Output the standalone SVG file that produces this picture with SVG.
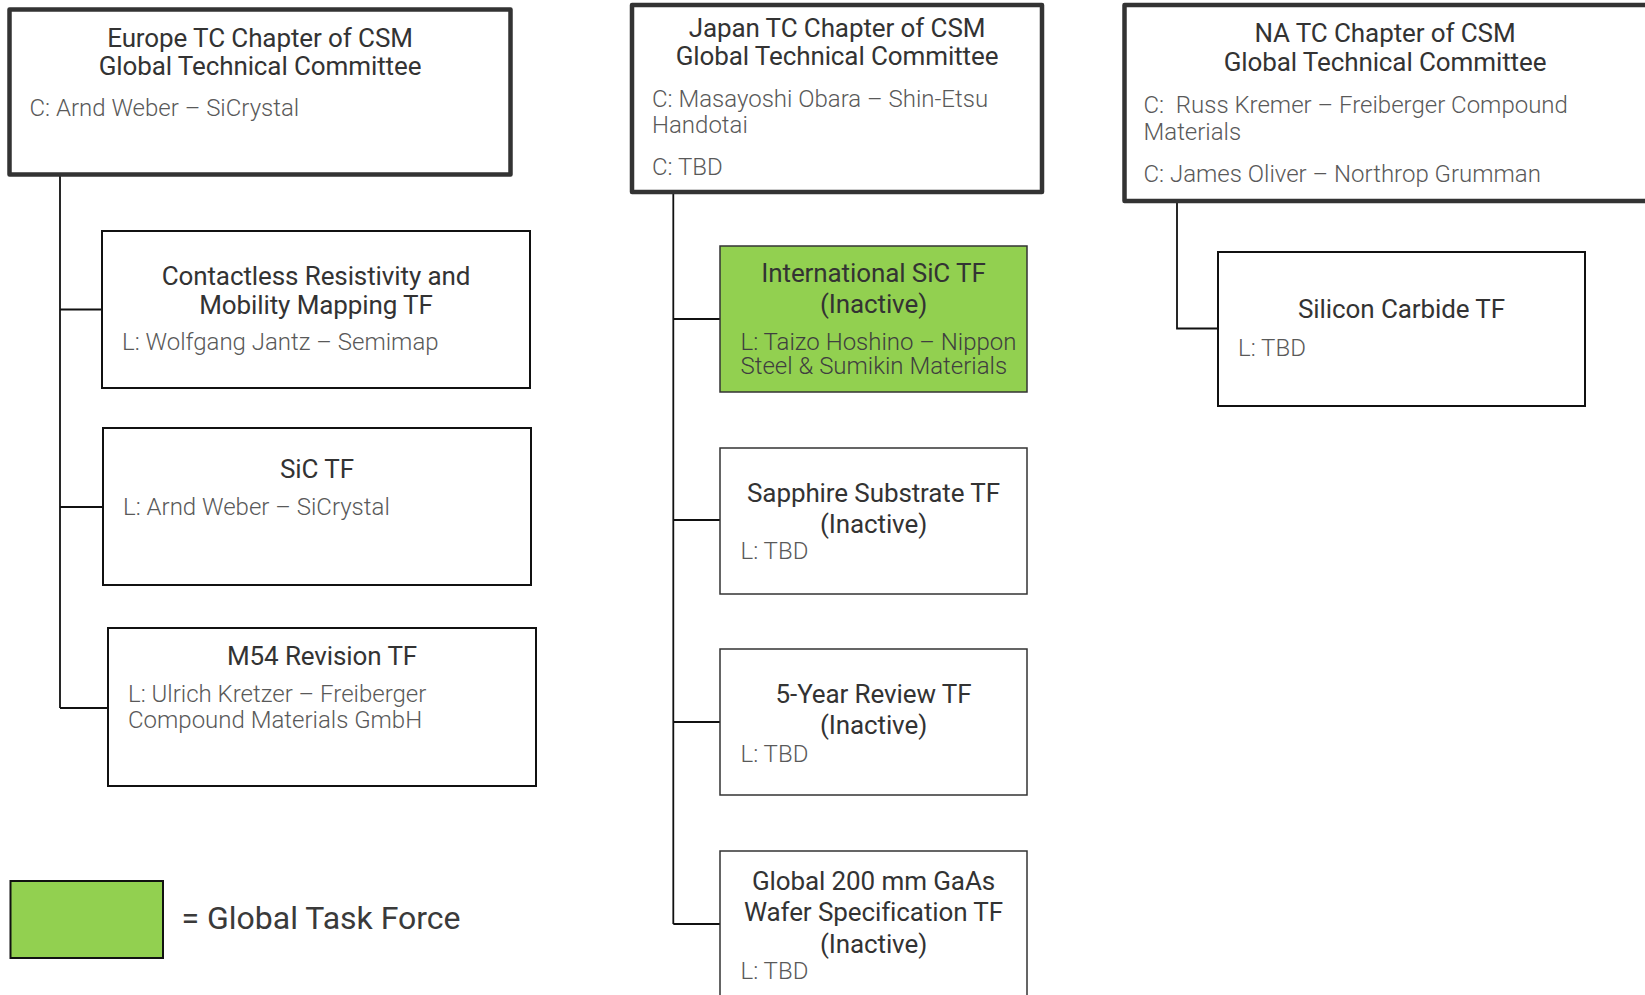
<svg xmlns="http://www.w3.org/2000/svg" width="1645" height="995" viewBox="0 0 1645 995">
  <style>
    .chapter { fill: #ffffff; stroke: #333333; stroke-width: 4.5; stroke-linejoin: round; }
    .tf { fill: #ffffff; stroke: #111111; stroke-width: 2; }
    .tf-j { fill: #ffffff; stroke: #333333; stroke-width: 1.5; }
    .global { fill: #92d050; stroke: #333333; stroke-width: 1.5; }
    .title { font-family: Roboto, "Liberation Sans", sans-serif; font-size: 26px; fill: #333333; text-anchor: middle; letter-spacing: -0.1px; }
    .body { font-family: Roboto, "Liberation Sans", sans-serif; font-weight: 300; font-size: 24px; fill: #595959; }
    .body-g { fill: #3f3f3f; }
    .link { fill: none; stroke: #111111; stroke-width: 1.8; }
    .legend-text { font-family: Roboto, "Liberation Sans", sans-serif; font-size: 32px; fill: #3a3a3a; }
  </style>

  <!-- connectors -->
  <g id="connectors">
    <path class="link" d="M60,175 V708 M60,309.5 H102 M60,507 H103 M60,708 H108"/>
    <path class="link" stroke-width="1.5" d="M673.3,192 V924 M673.3,319 H720 M673.3,520 H720 M673.3,722 H720 M673.3,924 H720"/>
    <path class="link" d="M1177,201 V328.5 H1218"/>
  </g>

  <!-- Europe chapter -->
  <g id="europe-tc">
    <rect class="chapter" x="9.5" y="9.5" width="501" height="165"/>
    <text class="title" x="260" y="46.5">Europe TC Chapter of CSM</text>
    <text class="title" x="260" y="74.5">Global Technical Committee</text>
    <text class="body" x="29.5" y="116">C: Arnd Weber – SiCrystal</text>
  </g>

  <g id="contactless-tf">
    <rect class="tf" x="102" y="231" width="428" height="157"/>
    <text class="title" x="316" y="285">Contactless Resistivity and</text>
    <text class="title" x="316" y="314">Mobility Mapping TF</text>
    <text class="body" x="122" y="350">L: Wolfgang Jantz – Semimap</text>
  </g>

  <g id="sic-tf">
    <rect class="tf" x="103" y="428" width="428" height="157"/>
    <text class="title" x="317" y="478">SiC TF</text>
    <text class="body" x="123" y="515">L: Arnd Weber – SiCrystal</text>
  </g>

  <g id="m54-tf">
    <rect class="tf" x="108" y="628" width="428" height="158"/>
    <text class="title" x="322" y="665">M54 Revision TF</text>
    <text class="body" x="128" y="702">L: Ulrich Kretzer – Freiberger</text>
    <text class="body" x="128" y="728">Compound Materials GmbH</text>
  </g>

  <!-- Japan chapter -->
  <g id="japan-tc">
    <rect class="chapter" x="632" y="5" width="410" height="187"/>
    <text class="title" x="837" y="37">Japan TC Chapter of CSM</text>
    <text class="title" x="837" y="65">Global Technical Committee</text>
    <text class="body" x="652" y="107">C: Masayoshi Obara – Shin-Etsu</text>
    <text class="body" x="652" y="133">Handotai</text>
    <text class="body" x="652" y="175">C: TBD</text>
  </g>

  <g id="intl-sic-tf">
    <rect class="global" x="720" y="246" width="307" height="146"/>
    <text class="title" x="873.5" y="282">International SiC TF</text>
    <text class="title" x="873.5" y="313">(Inactive)</text>
    <text class="body body-g" x="740.5" y="350">L: Taizo Hoshino – Nippon</text>
    <text class="body body-g" x="740.5" y="374">Steel &amp; Sumikin Materials</text>
  </g>

  <g id="sapphire-tf">
    <rect class="tf-j" x="720" y="448" width="307" height="146"/>
    <text class="title" x="873.5" y="501.5">Sapphire Substrate TF</text>
    <text class="title" x="873.5" y="533">(Inactive)</text>
    <text class="body" x="740.5" y="559">L: TBD</text>
  </g>

  <g id="five-year-tf">
    <rect class="tf-j" x="720" y="649" width="307" height="146"/>
    <text class="title" x="873.5" y="703">5-Year Review TF</text>
    <text class="title" x="873.5" y="734">(Inactive)</text>
    <text class="body" x="740.5" y="761.5">L: TBD</text>
  </g>

  <g id="gaas-tf">
    <rect class="tf-j" x="720" y="851" width="307" height="160"/>
    <text class="title" x="873.5" y="889.5">Global 200 mm GaAs</text>
    <text class="title" x="873.5" y="921">Wafer Specification TF</text>
    <text class="title" x="873.5" y="952.5">(Inactive)</text>
    <text class="body" x="740.5" y="979">L: TBD</text>
  </g>

  <!-- North America chapter -->
  <g id="na-tc">
    <rect class="chapter" x="1124.5" y="5" width="523" height="196"/>
    <text class="title" x="1385" y="42">NA TC Chapter of CSM</text>
    <text class="title" x="1385" y="71">Global Technical Committee</text>
    <text class="body" x="1143.5" y="113" xml:space="preserve">C:  Russ Kremer – Freiberger Compound</text>
    <text class="body" x="1143.5" y="139.5">Materials</text>
    <text class="body" x="1143.5" y="182">C: James Oliver – Northrop Grumman</text>
  </g>

  <g id="silicon-carbide-tf">
    <rect class="tf" x="1218" y="252" width="367" height="154"/>
    <text class="title" x="1401.5" y="318">Silicon Carbide TF</text>
    <text class="body" x="1238" y="355.5">L: TBD</text>
  </g>

  <!-- legend -->
  <g id="legend">
    <rect x="10.5" y="881" width="152.5" height="77" fill="#92d050" stroke="#111111" stroke-width="2"/>
    <text class="legend-text" x="181.5" y="929">= Global Task Force</text>
  </g>
</svg>
